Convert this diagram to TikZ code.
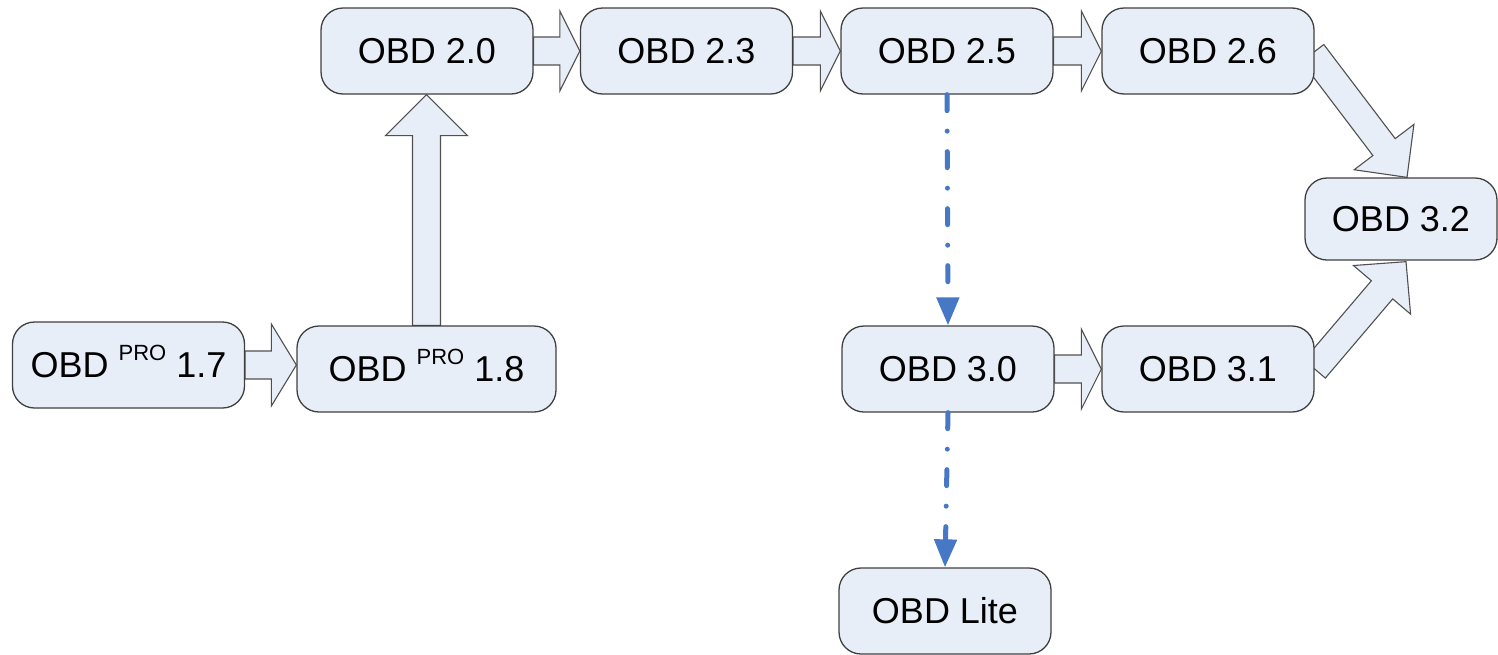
\documentclass[tikz,border=0pt]{standalone}
\usepackage{fontspec}
\setmainfont{Liberation Sans}
\usetikzlibrary{calc,arrows.meta}
\definecolor{boxfill}{RGB}{232,238,248}
\definecolor{boxline}{RGB}{64,64,64}
\definecolor{arrline}{RGB}{80,80,80}
\definecolor{dashblue}{RGB}{70,120,198}
\pgfdeclarelayer{bg}
\pgfsetlayers{bg,main}
\newcommand{\blkarrow}[5]{%
  \coordinate (bah) at ($(#2)!#5!(#1)$);
  \draw[blockarrow] ($(#1)!#3!90:(#2)$) -- ($(bah)!#3!90:(#2)$) -- ($(bah)!#4!90:(#2)$) -- (#2)
    -- ($(bah)!#4!-90:(#2)$) -- ($(bah)!#3!-90:(#2)$) -- ($(#1)!#3!-90:(#2)$) -- cycle;}
\newcommand{\prosup}{\raisebox{17pt}[0pt][0pt]{\fontsize{22}{22}\selectfont PRO}}
\tikzset{
  verbox/.style={draw=boxline, fill=boxfill, rounded corners=22pt, line width=1.3pt,
    minimum width=212pt, minimum height=86pt, inner sep=0pt,
    font=\fontsize{36}{40}\selectfont},
  blockarrow/.style={draw=arrline, fill=boxfill, line width=1.1pt, line join=miter},
  dashlink/.style={draw=dashblue, line width=5pt, line cap=round,
    dash pattern=on 16pt off 20.5pt on 0.01pt off 20.5pt,
    -{Triangle[length=28pt,width=22pt]}}
}
\begin{document}
\begin{tikzpicture}[x=1pt,y=-1pt]
\useasboundingbox (0,0) rectangle (1498,654);
\node[verbox, minimum width=232pt] (n17) at (128.5,365) {OBD \prosup{} 1.7};
\node[verbox, minimum width=259pt] (n18) at (426.5,369) {OBD \prosup{} 1.8};
\node[verbox] (n20) at (427,51) {OBD 2.0};
\node[verbox] (n23) at (686.5,51) {OBD 2.3};
\node[verbox] (n25) at (947,51) {OBD 2.5};
\node[verbox] (n26) at (1208,51) {OBD 2.6};
\node[verbox, minimum width=192pt, minimum height=82pt] (n32) at (1401,219) {OBD 3.2};
\node[verbox] (n30) at (948,369) {OBD 3.0};
\node[verbox] (n31) at (1208,369) {OBD 3.1};
\node[verbox] (nlite) at (945,611) {OBD Lite};

\begin{pgfonlayer}{bg}
  \coordinate (t18) at (n18.west |- n17.east);
  \blkarrow{n17.east}{t18}{14pt}{41pt}{25pt}
  \coordinate (t20) at (n18.north |- n20.south);
  \blkarrow{n18.north}{t20}{14pt}{41pt}{41pt}
  \blkarrow{n20.east}{n23.west}{14pt}{40pt}{20pt}
  \blkarrow{n23.east}{n25.west}{14pt}{40pt}{20pt}
  \blkarrow{n25.east}{n26.west}{14pt}{40pt}{20pt}
  \blkarrow{n30.east}{n31.west}{14pt}{40pt}{20pt}
  \coordinate (s26) at ($(n26.east)+(-2,2)$);
  \coordinate (t32a) at ($(n32.north)+(6,0)$);
  \blkarrow{s26}{t32a}{14pt}{37.5pt}{38pt}
  \coordinate (t32b) at ($(n32.south)+(5,1)$);
  \blkarrow{n31.east}{t32b}{14pt}{37.5pt}{37pt}
\end{pgfonlayer}

\draw[dashlink] (n25.south) -- (n30.north);
\draw[dashlink] (n30.south) -- (nlite.north);
\end{tikzpicture}
\end{document}
